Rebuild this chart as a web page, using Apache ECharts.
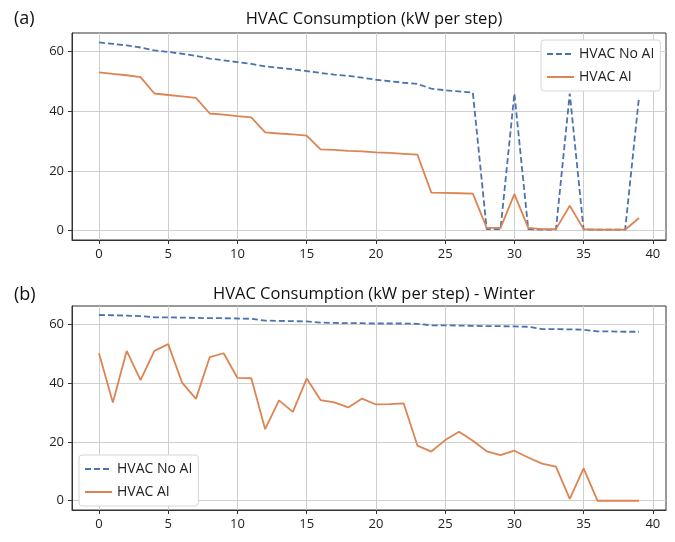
<!DOCTYPE html>
<html><head><meta charset="utf-8">
<script src="https://cdn.jsdelivr.net/npm/echarts@6/dist/echarts.min.js"></script>
<style>html,body{margin:0;padding:0;background:#fff}#c{width:675px;height:542px}</style>
</head><body><div id="c"></div>
<script>
const steps = Array.from({length: 40}, (_, i) => i);
const xTicks = [0, 5, 10, 15, 20, 25, 30, 35, 40];
const yTicks = [0, 20, 40, 60];
const titleA = 'HVAC Consumption (kW per step)';
const titleB = 'HVAC Consumption (kW per step) - Winter';
const nameNoAI = 'HVAC No AI';
const nameAI = 'HVAC AI';

const noAI_a = [63.0,62.5,62.0,61.3,60.3,59.8,59.2,58.5,57.6,57.0,56.4,55.8,55.0,54.5,54.0,53.4,52.8,52.2,51.8,51.2,50.5,50.0,49.5,49.1,47.5,47.0,46.6,46.2,0.5,0.5,45.9,0.5,0.3,0.3,45.9,0.3,0.3,0.3,0.3,44.7];
const ai_a = [53.0,52.5,52.0,51.4,45.9,45.4,44.9,44.4,39.2,38.8,38.3,37.9,32.9,32.5,32.2,31.8,27.2,27.0,26.7,26.5,26.2,26.0,25.7,25.4,12.7,12.6,12.5,12.4,0.9,0.9,12.2,0.9,0.5,0.5,8.3,0.5,0.3,0.3,0.3,4.2];
const noAI_b = [63.1,63.0,62.9,62.7,62.3,62.3,62.2,62.1,62.0,62.0,61.9,61.8,61.2,61.1,61.0,60.9,60.5,60.4,60.3,60.3,60.2,60.2,60.2,60.1,59.6,59.6,59.5,59.4,59.3,59.3,59.2,59.1,58.3,58.3,58.2,58.1,57.5,57.5,57.4,57.4];
const ai_b = [50.1,33.4,50.9,41.0,50.9,53.2,40.1,34.6,48.8,50.1,41.7,41.6,24.3,34.1,30.2,41.5,34.2,33.4,31.7,34.7,32.7,32.8,33.1,18.7,16.7,20.6,23.4,20.4,16.8,15.5,17.0,14.7,12.6,11.6,0.6,11.0,0.0,0.0,0.0,0.0];

const BLUE = '#4C72B0', ORANGE = '#DD8452';
const FONT = 'Open Sans';
const pair = arr => arr.map((v, i) => [steps[i], v]);

function xAxis(gi) {
  return {
    type: 'value', gridIndex: gi, min: -1.95, max: 40.95,
    axisLine: {show: true, onZero: false, lineStyle: {color: '#333'}},
    axisTick: {show: true, length: 4, customValues: xTicks, lineStyle: {color: '#333'}},
    axisLabel: {customValues: xTicks, color: '#222', fontSize: 13, fontFamily: FONT, margin: 8},
    splitLine: {show: true, lineStyle: {color: '#cfcfcf', width: 1}}
  };
}
function yAxis(gi) {
  return {
    type: 'value', gridIndex: gi, min: -3.15, max: 66.15,
    axisLine: {show: true, onZero: false, lineStyle: {color: '#333'}},
    axisTick: {show: true, length: 4, customValues: yTicks, lineStyle: {color: '#333'}},
    axisLabel: {customValues: yTicks, color: '#222', fontSize: 13, fontFamily: FONT, margin: 8},
    splitLine: {show: true, lineStyle: {color: '#cfcfcf', width: 1}}
  };
}
function lineSeries(name, data, gi, color, dashed) {
  return {
    type: 'line', name, data: pair(data), xAxisIndex: gi, yAxisIndex: gi,
    symbol: 'none', animation: false,
    lineStyle: {color, width: 1.8, type: dashed ? [6, 3] : 'solid'},
    itemStyle: {color}
  };
}
function legend(left, top) {
  return {orient: 'vertical', left, top, itemWidth: 27, itemHeight: 10, itemGap: 9, padding: [7, 6, 7, 5],
    borderColor: '#d6d6d6', borderWidth: 1, borderRadius: 3, backgroundColor: '#fff',
    itemStyle: {opacity: 0},
    textStyle: {fontSize: 14, fontFamily: FONT, color: '#222'}, data: [nameNoAI, nameAI]};
}

const chart = echarts.init(document.getElementById('c'), null, {renderer: 'canvas'});
chart.setOption({
  backgroundColor: '#fff',
  animation: false,
  title: [
    {text: titleA, left: 369, top: 6, textAlign: 'center', textStyle: {fontSize: 16.5, fontWeight: 'normal', color: '#111', fontFamily: FONT}},
    {text: titleB, left: 369, top: 281, textAlign: 'center', textStyle: {fontSize: 16.5, fontWeight: 'normal', color: '#111', fontFamily: FONT}},
    {text: '(a)', left: 9, top: 5, textStyle: {fontSize: 18, fontWeight: 'normal', color: '#111', fontFamily: FONT}},
    {text: '(b)', left: 9, top: 281, textStyle: {fontSize: 18, fontWeight: 'normal', color: '#111', fontFamily: FONT}}
  ],
  grid: [
    {left: 72, top: 33, width: 594, height: 207, show: true, borderColor: '#333', borderWidth: 1, backgroundColor: 'transparent'},
    {left: 72, top: 306, width: 594, height: 204, show: true, borderColor: '#333', borderWidth: 1, backgroundColor: 'transparent'}
  ],
  xAxis: [xAxis(0), xAxis(1)],
  yAxis: [yAxis(0), yAxis(1)],
  legend: [legend(541, 40), legend(79, 455)],
  series: [
    lineSeries(nameNoAI, noAI_a, 0, BLUE, true),
    lineSeries(nameAI, ai_a, 0, ORANGE, false),
    lineSeries(nameNoAI, noAI_b, 1, BLUE, true),
    lineSeries(nameAI, ai_b, 1, ORANGE, false)
  ]
});
</script></body></html>
